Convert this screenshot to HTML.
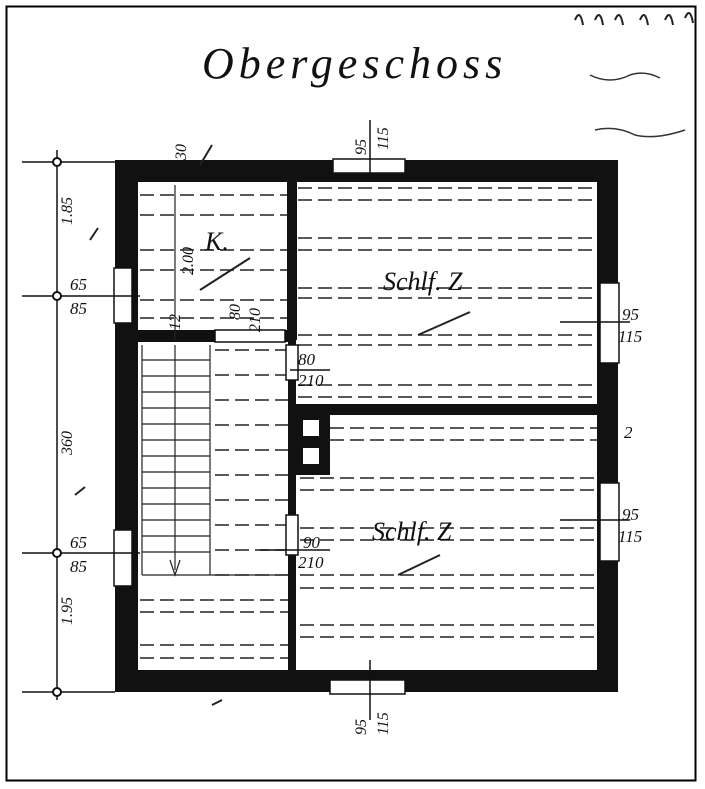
<!DOCTYPE html>
<html><head><meta charset="utf-8"><style>
html,body{margin:0;padding:0;background:#fff;}
svg{display:block;}
text{font-family:"Liberation Serif",serif;font-style:italic;fill:#111;}
</style></head><body>
<svg width="705" height="789" viewBox="0 0 705 789" xmlns="http://www.w3.org/2000/svg">
<rect x="6.5" y="6.5" width="689" height="774" fill="#fff" stroke="#000" stroke-width="2"/>
<text x="202" y="78" font-size="44" letter-spacing="5">Obergeschoss</text>
<path d="M575 20 q5 -12 8 5 M595 20 q5 -12 8 5 M615 20 q5 -12 8 5 M640 20 q5 -12 8 5 M665 20 q5 -12 8 5 M685 18 q5 -12 8 5" stroke="#222" stroke-width="2" fill="none"/>
<path d="M590 75 q20 10 40 0 q15 -5 30 3 M595 130 q20 -5 40 5 q20 5 50 -5" stroke="#333" stroke-width="1.5" fill="none"/>
<g stroke="#222" stroke-width="1.5" stroke-dasharray="14 6" fill="none">
<path d="M140 195H288M140 215H288M140 250H288M140 270H288M140 300H288M140 318H288"/>
<path d="M298 188H597M298 200H597M298 238H597M298 250H597M298 288H597M298 298H597M298 335H597M298 345H597M298 385H597M298 397H597"/>
<path d="M330 428H597M330 440H597M300 478H597M300 490H597M300 528H597M300 540H597M300 575H597M300 588H597M300 625H597M300 637H597"/>
<path d="M140 600H290M140 612H290M140 645H290M140 658H290"/>
<path d="M215 350H288M215 375H288M215 400H288M215 425H288M215 450H288M215 475H288M215 500H288M215 525H288M215 550H288M215 575H288"/>
</g>
<g fill="#111">
<rect x="115" y="160" width="503" height="22"/>
<rect x="115" y="670" width="503" height="22"/>
<rect x="115" y="160" width="23" height="532"/>
<rect x="597" y="160" width="21" height="532"/>
<rect x="287" y="182" width="10" height="158"/>
<rect x="138" y="330" width="152" height="12"/>
<rect x="288" y="340" width="8" height="330"/>
<rect x="290" y="404" width="307" height="11"/>
<rect x="296" y="410" width="34" height="65"/>
</g>
<rect x="303" y="420" width="16" height="16" fill="#fff"/>
<rect x="303" y="448" width="16" height="16" fill="#fff"/>
<g fill="#fff" stroke="#111" stroke-width="1.5">
<rect x="333" y="159" width="72" height="14"/>
<rect x="330" y="680" width="75" height="14"/>
<rect x="600" y="283" width="19" height="80"/>
<rect x="600" y="483" width="19" height="78"/>
<rect x="114" y="268" width="18" height="55"/>
<rect x="114" y="530" width="18" height="56"/>
<rect x="286" y="515" width="12" height="40"/>
<rect x="286" y="345" width="12" height="35"/>
<rect x="215" y="330" width="70" height="12"/>
</g>
<g stroke="#222" stroke-width="1.2">
<path d="M142 345V575M210 345V575M175 345V570"/>
<path d="M142 360H210M142 376H210M142 392H210M142 408H210M142 424H210M142 440H210M142 456H210M142 472H210M142 488H210M142 504H210M142 520H210M142 536H210M142 552H210M142 575H288"/>
<path d="M175 185V340" />
<path d="M170 560L175 575L180 560" fill="none"/>
</g>
<g stroke="#111" stroke-width="1.5" fill="none">
<path d="M57 150V700M22 162H115M22 296H140M22 553H140M22 692H115"/>
<path d="M370 120V180M370 660V720M560 322H630M560 520H630M290 370H330M260 550H330"/>
</g>
<g fill="#fff" stroke="#111" stroke-width="2">
<circle cx="57" cy="162" r="4"/><circle cx="57" cy="296" r="4"/><circle cx="57" cy="553" r="4"/><circle cx="57" cy="692" r="4"/>
</g>
<text x="383" y="290" font-size="26">Schlf. Z</text>
<text x="372" y="540" font-size="26">Schlf. Z</text>
<text x="205" y="250" font-size="26">K.</text>
<g font-size="17">
<text x="70" y="290">65</text><text x="70" y="314">85</text>
<text x="70" y="548">65</text><text x="70" y="572">85</text>
<text x="622" y="320">95</text><text x="618" y="342">115</text>
<text x="622" y="520">95</text><text x="618" y="542">115</text>
<text x="298" y="365">80</text><text x="298" y="386">210</text>
<text x="303" y="548">90</text><text x="298" y="568">210</text>
<text x="624" y="438">2</text>
</g>
<g font-size="16">
<text transform="translate(72 225) rotate(-90)">1.85</text>
<text transform="translate(72 455) rotate(-90)">360</text>
<text transform="translate(72 625) rotate(-90)">1.95</text>
<text transform="translate(186 160) rotate(-90)">30</text>
<text transform="translate(366 155) rotate(-90)">95</text>
<text transform="translate(388 150) rotate(-90)">115</text>
<text transform="translate(366 735) rotate(-90)">95</text>
<text transform="translate(388 735) rotate(-90)">115</text>
<text transform="translate(193 275) rotate(-90)">2.00</text>
<text transform="translate(180 330) rotate(-90)">12</text>
<text transform="translate(240 320) rotate(-90)">80</text>
<text transform="translate(260 332) rotate(-90)">210</text>
</g>
<g stroke="#222" stroke-width="2" fill="none">
<path d="M200 165L212 145M418 335L470 312M398 575L440 555M200 290L250 258M90 240l8 -12M75 495l10 -8M212 705l10 -5"/>
</g>
</svg>
</body></html>
